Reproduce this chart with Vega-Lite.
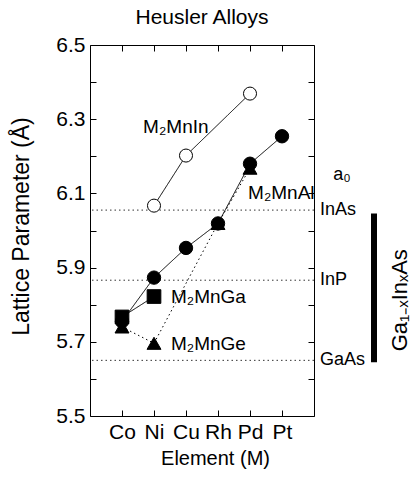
{
  "$schema": "https://vega.github.io/schema/vega-lite/v6.json",
  "width": 224,
  "height": 371,
  "autosize": "none",
  "padding": {"left": 90, "top": 45, "right": 98, "bottom": 72},
  "background": "white",
  "title": {"text": "Heusler Alloys", "fontSize": 21, "font": "Liberation Sans", "fontWeight": "normal", "offset": 6, "anchor": "middle", "color": "black"},
  "config": {
    "view": {"stroke": "black", "strokeWidth": 1},
    "axis": {"grid": false, "domain": false, "ticks": true, "tickColor": "black", "tickSize": -6, "tickWidth": 1, "labelColor": "black", "labelFont": "Liberation Sans", "labelFontSize": 21, "titleFont": "Liberation Sans", "titleFontSize": 20, "titleFontWeight": "normal", "titleColor": "black"},
    "text": {"font": "Liberation Sans", "color": "black"}
  },
  "datasets": {
    "compounds": [
      {"compound": "M2MnIn", "element": "Ni", "n": 2, "a": 6.067},
      {"compound": "M2MnIn", "element": "Cu", "n": 3, "a": 6.202},
      {"compound": "M2MnIn", "element": "Pd", "n": 5, "a": 6.369},
      {"compound": "M2MnAl", "element": "Co", "n": 1, "a": 5.755},
      {"compound": "M2MnAl", "element": "Ni", "n": 2, "a": 5.873},
      {"compound": "M2MnAl", "element": "Cu", "n": 3, "a": 5.953},
      {"compound": "M2MnAl", "element": "Rh", "n": 4, "a": 6.019},
      {"compound": "M2MnAl", "element": "Pd", "n": 5, "a": 6.180},
      {"compound": "M2MnAl", "element": "Pt", "n": 6, "a": 6.254},
      {"compound": "M2MnGa", "element": "Co", "n": 1, "a": 5.767},
      {"compound": "M2MnGa", "element": "Ni", "n": 2, "a": 5.822},
      {"compound": "M2MnGe", "element": "Co", "n": 1, "a": 5.740},
      {"compound": "M2MnGe", "element": "Ni", "n": 2, "a": 5.696},
      {"compound": "M2MnGe", "element": "Rh", "n": 4, "a": 6.019},
      {"compound": "M2MnGe", "element": "Pd", "n": 5, "a": 6.168}
    ],
    "substrates": [
      {"name": "InAs", "a": 6.055},
      {"name": "InP", "a": 5.866},
      {"name": "GaAs", "a": 5.650}
    ]
  },
  "layer": [
    {
      "data": {"name": "substrates"},
      "mark": {"type": "rule", "color": "#333", "strokeWidth": 1, "strokeDash": [1.5, 3]},
      "encoding": {
        "y": {"field": "a", "type": "quantitative", "scale": {"domain": [5.5, 6.5], "nice": false, "zero": false},
          "axis": {"orient": "right", "values": [5.5, 5.6, 5.7, 5.8, 5.9, 6.0, 6.1, 6.2, 6.3, 6.4, 6.5], "labels": false, "title": null}}
      }
    },
    {
      "data": {"name": "compounds"},
      "mark": {"type": "line", "color": "black", "strokeWidth": 1},
      "encoding": {
        "x": {"field": "n", "type": "quantitative", "scale": {"domain": [0, 7], "nice": false, "zero": false},
          "axis": {"orient": "bottom", "values": [1, 2, 3, 4, 5, 6], "labelExpr": "['','Co','Ni','Cu','Rh','Pd','Pt'][datum.value]", "labelPadding": 11, "title": "Element (M)", "titleX": 125, "titleY": 42, "titleBaseline": "middle"}},
        "y": {"field": "a", "type": "quantitative",
          "axis": {"orient": "left", "values": [5.5, 5.6, 5.7, 5.8, 5.9, 6.0, 6.1, 6.2, 6.3, 6.4, 6.5], "labelExpr": "round(datum.value*10) % 2 == 1 ? format(datum.value, '.1f') : ''", "labelPadding": 11, "title": "Lattice Parameter (Å)", "titleFontSize": 23, "titleX": -69, "titleY": 181, "titleBaseline": "middle"}},
        "detail": {"field": "compound"},
        "strokeDash": {"field": "compound", "type": "nominal", "scale": {"domain": ["M2MnIn", "M2MnAl", "M2MnGa", "M2MnGe"], "range": [[1, 0], [1, 0], [1, 0], [1.5, 3]]}, "legend": null}
      }
    },
    {
      "data": {"name": "compounds"},
      "mark": {"type": "point", "filled": true, "stroke": "black", "strokeWidth": 1, "opacity": 1},
      "encoding": {
        "x": {"field": "n", "type": "quantitative",
          "axis": {"orient": "top", "values": [1, 2, 3, 4, 5, 6], "labels": false, "title": null}},
        "y": {"field": "a", "type": "quantitative", "axis": null},
        "shape": {"field": "compound", "type": "nominal", "scale": {"domain": ["M2MnIn", "M2MnAl", "M2MnGa", "M2MnGe"], "range": ["circle", "circle", "square", "triangle-up"]}, "legend": null},
        "fill": {"field": "compound", "type": "nominal", "scale": {"domain": ["M2MnIn", "M2MnAl", "M2MnGa", "M2MnGe"], "range": ["white", "black", "black", "black"]}, "legend": null},
        "size": {"field": "compound", "type": "nominal", "scale": {"domain": ["M2MnIn", "M2MnAl", "M2MnGa", "M2MnGe"], "range": [170, 195, 150, 140]}, "legend": null},
        "order": {"field": "compound", "sort": "ascending"}
      }
    },
    {
      "data": {"values": [{}]},
      "mark": {"type": "rule", "color": "black", "strokeWidth": 6},
      "encoding": {"x": {"datum": 8.875, "axis": null}, "y": {"datum": 6.046, "axis": null}, "y2": {"datum": 5.645}}
    },
    {
      "data": {"name": "substrates"},
      "mark": {"type": "text", "align": "left", "baseline": "middle", "fontSize": 18},
      "encoding": {"x": {"datum": 7.19, "axis": null}, "y": {"field": "a", "type": "quantitative", "axis": null}, "text": {"field": "name"}}
    },
    {
      "data": {"values": [{}]},
      "mark": {"type": "text", "text": "M₂MnIn", "align": "left", "baseline": "middle", "fontSize": 19},
      "encoding": {"x": {"datum": 1.66, "axis": null}, "y": {"datum": 6.28, "axis": null}}
    },
    {
      "data": {"values": [{}]},
      "mark": {"type": "text", "text": "M₂MnAl", "align": "left", "baseline": "middle", "fontSize": 19},
      "encoding": {"x": {"datum": 4.94, "axis": null}, "y": {"datum": 6.102, "axis": null}}
    },
    {
      "data": {"values": [{}]},
      "mark": {"type": "text", "text": "M₂MnGa", "align": "left", "baseline": "middle", "fontSize": 19},
      "encoding": {"x": {"datum": 2.53, "axis": null}, "y": {"datum": 5.82, "axis": null}}
    },
    {
      "data": {"values": [{}]},
      "mark": {"type": "text", "text": "M₂MnGe", "align": "left", "baseline": "middle", "fontSize": 19},
      "encoding": {"x": {"datum": 2.53, "axis": null}, "y": {"datum": 5.694, "axis": null}}
    },
    {
      "data": {"values": [{}]},
      "mark": {"type": "text", "text": "a₀", "align": "left", "baseline": "middle", "fontSize": 18},
      "encoding": {"x": {"datum": 7.6, "axis": null}, "y": {"datum": 6.15, "axis": null}}
    },
    {
      "data": {"values": [{}]},
      "mark": {"type": "text", "text": "Ga₁₋ₓInₓAs", "align": "center", "baseline": "middle", "fontSize": 22, "angle": 270},
      "encoding": {"x": {"datum": 9.69, "axis": null}, "y": {"datum": 5.812, "axis": null}}
    }
  ]
}
